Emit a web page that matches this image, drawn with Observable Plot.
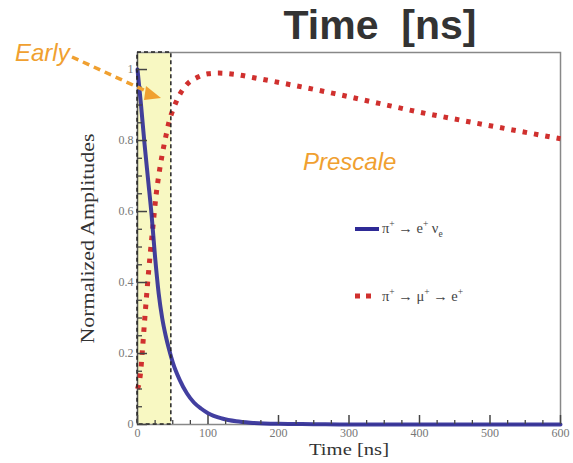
<!DOCTYPE html>
<html>
<head>
<meta charset="utf-8">
<script src="https://cdn.jsdelivr.net/npm/d3@7"></script>
<script src="https://cdn.jsdelivr.net/npm/@observablehq/plot@0.6"></script>
<style>
  html, body { margin: 0; padding: 0; background: #fff; }
  #wrap { position: relative; width: 573px; height: 463px; overflow: hidden; background: #fff; }
  #title { height: 44px; position: relative; }
  #title span {
    position: absolute; left: 380px; top: 2px; transform: translateX(-50%); line-height: 1;
    font: bold 41px "Liberation Sans", Arial, sans-serif; color: #333; white-space: pre;
  }
  .note { position: absolute; font-family: "Liberation Sans", Arial, sans-serif; font-style: italic; color: #f0a030; white-space: pre; line-height: 1; }
  .leg { position: absolute; font: 14.5px "Liberation Serif", serif; color: #444; display: flex; align-items: center; white-space: nowrap; }
  .leg sup, .leg sub { font-size: 9.5px; }
  #overlay { position: absolute; left: 0; top: 0; pointer-events: none; }
</style>
</head>
<body>
<div id="wrap">
  <div id="title"><span>Time  [ns]</span></div>
  <div id="chart"></div>
  <div class="note" style="left:15px; top:41px; font-size:24px;">Early</div>
  <div class="note" style="left:303px; top:150px; font-size:24px;">Prescale</div>
  <div class="leg" style="left:355px; top:219px;">
    <svg width="27" height="20"><line x1="0" x2="24" y1="10" y2="10" stroke="#2e2a96" stroke-width="4"/></svg>
    <span>π<sup>+</sup> → e<sup>+</sup> ν<sub>e</sub></span>
  </div>
  <div class="leg" style="left:355px; top:286px;">
    <svg width="27" height="20"><line x1="0" x2="18" y1="10" y2="10" stroke="#d0302e" stroke-width="5" stroke-dasharray="5,6"/></svg>
    <span>π<sup>+</sup> → μ<sup>+</sup> → e<sup>+</sup></span>
  </div>
  <svg id="overlay" width="573" height="463">
    <line x1="72" y1="57" x2="146" y2="91" stroke="#f0a030" stroke-width="3.5" stroke-dasharray="7,5"/>
    <polygon points="146,86 161,98 144,100" fill="#f0a030"/>
  </svg>
</div>
<script>
// pi+ -> e+ nu_e amplitude vs time (ns)
const timeENu = [0, 5, 10, 15, 20, 25, 30, 35, 40, 45, 50, 60, 70, 80, 90, 100, 120, 140, 160, 200, 250, 300, 400, 500, 600];
const ampENu  = [1.0, 0.9, 0.79, 0.69, 0.59, 0.47, 0.37, 0.3, 0.25, 0.21, 0.175, 0.125, 0.088, 0.062, 0.045, 0.032, 0.017, 0.009, 0.005, 0.002, 0.001, 0, 0, 0, 0];

// pi+ -> mu+ -> e+ amplitude vs time (ns)
const timeMuE = [0, 4, 7, 10, 14, 18, 22, 26, 30, 35, 40, 45, 50, 60, 70, 85, 100, 115, 140, 165, 210, 280, 335, 400, 470, 540, 600];
const ampMuE  = [0.1, 0.14, 0.21, 0.29, 0.39, 0.48, 0.56, 0.64, 0.7, 0.76, 0.81, 0.855, 0.885, 0.93, 0.958, 0.978, 0.988, 0.99, 0.986, 0.977, 0.96, 0.932, 0.908, 0.88, 0.853, 0.827, 0.805];

// early-time window (ns)
const earlyWindow = [0, 48];

// axis ticks
const xTicks = [0, 100, 200, 300, 400, 500, 600];
const yTicks = [0, 0.2, 0.4, 0.6, 0.8, 1];
const xMinor = d3.range(0, 601, 25).filter(v => !xTicks.includes(v));
const yMinor = d3.range(0, 21).map(i => +(i * 0.05).toFixed(2)).filter(v => !yTicks.includes(v));

const xLabel = "Time [ns]";
const yLabel = "Normalized Amplitudes";

const eNu = timeENu.map((t, i) => ({t, a: ampENu[i]}));
const muE = timeMuE.map((t, i) => ({t, a: ampMuE[i]}));

const serif = "Liberation Serif, Times New Roman, serif";

const chart = Plot.plot({
  width: 573,
  height: 419,
  marginLeft: 137,
  marginRight: 13,
  marginTop: 8,
  marginBottom: 39,
  style: { fontFamily: serif, background: "transparent" },
  x: { domain: [0, 600] },
  y: { domain: [0, 1.048] },
  marks: [
    Plot.rect([earlyWindow], { x1: d => d[0], x2: d => d[1], fill: "#f8f8c2" }),
    Plot.frame({ stroke: "#888", strokeWidth: 1.5 }),
    Plot.ruleX([0], { stroke: "#555", strokeWidth: 1.2 }),
    Plot.line(muE, { x: "t", y: "a", stroke: "#d0302e", strokeWidth: 5, strokeDasharray: "4.5,7", strokeLinecap: "butt", curve: "monotone-x" }),
    Plot.line(eNu, { x: "t", y: "a", stroke: "#2e2a96", strokeWidth: 4, strokeOpacity: 0.9, curve: "monotone-x" }),
    Plot.rect([earlyWindow], { x1: d => d[0], x2: d => d[1], fill: "none", stroke: "#222", strokeWidth: 1.5, strokeDasharray: "4,3" }),
    // inward ticks: negative tickSize points them into the frame
    Plot.axisX(xTicks, { tickSize: -9, tickPadding: 13, fontSize: 12, fill: "#777", stroke: "#444", strokeWidth: 1.5, label: null }),
    Plot.axisX(xMinor, { tickSize: -4, fill: "none", stroke: "#444", strokeWidth: 1.3, label: null }),
    Plot.axisY(yTicks, { tickSize: -10, tickPadding: 14, fontSize: 12, fill: "#777", stroke: "#444", strokeWidth: 1.5, label: null, tickFormat: d => String(d) }),
    Plot.axisY(yMinor, { tickSize: -5, fill: "none", stroke: "#444", strokeWidth: 1.3, label: null }),
    Plot.text([xLabel], { text: d => d, frameAnchor: "bottom", dy: 30, fontSize: 17, fill: "#333" }),
    Plot.text([yLabel], { text: d => d, frameAnchor: "left", textAnchor: "middle", dx: -49, rotate: -90, fontSize: 18, fill: "#333" })
  ]
});

// the axis titles are set slightly wide, as in the original figure
d3.select(chart).selectAll("text").each(function() {
  const t = this.textContent;
  if (t === xLabel) d3.select(this).attr("textLength", 80).attr("lengthAdjust", "spacingAndGlyphs");
  if (t === yLabel) d3.select(this).attr("textLength", 210).attr("lengthAdjust", "spacingAndGlyphs");
});
document.getElementById("chart").appendChild(chart);
</script>
</body>
</html>
